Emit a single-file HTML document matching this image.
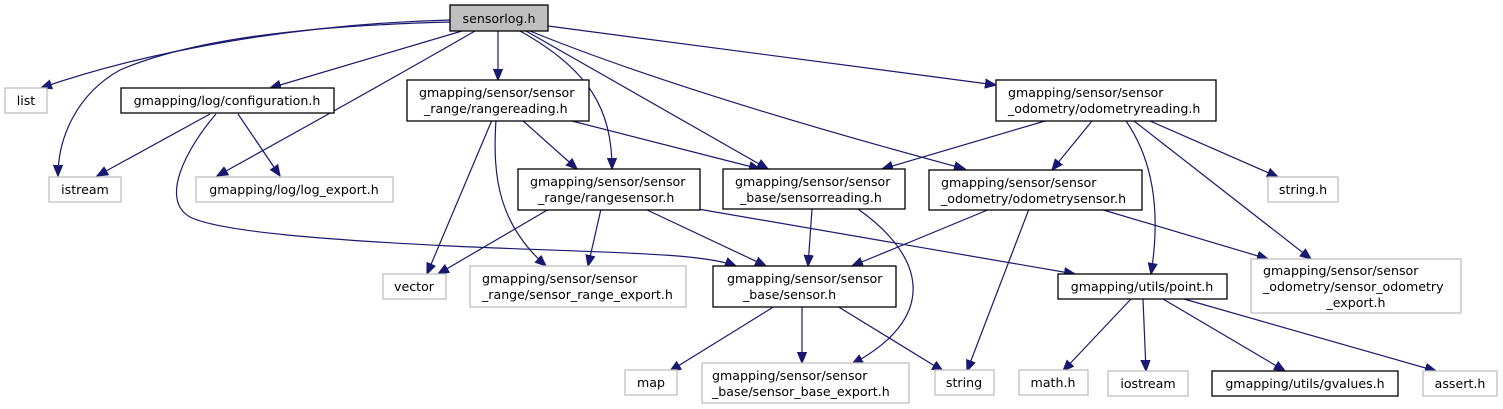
<!DOCTYPE html>
<html><head><meta charset="utf-8"><style>
html,body{margin:0;padding:0;background:#fff;}
svg{display:block;}
text{font-family:"DejaVu Sans","Liberation Sans",sans-serif;font-size:12.6px;fill:#000;}
.b{fill:#fff;stroke:#000;stroke-width:1.3;}
.g{fill:#fff;stroke:#bfbfbf;stroke-width:1.3;}
.e{fill:none;stroke:#191970;stroke-width:1.2;marker-end:url(#a);}
</style></head><body>
<svg width="1503" height="409" viewBox="0 0 1503 409" xmlns="http://www.w3.org/2000/svg">
<defs><marker id="a" markerUnits="userSpaceOnUse" markerWidth="13" markerHeight="11" refX="11" refY="5.5" orient="auto"><path d="M0,1 L11,5.5 L0,10 Z" fill="#191970" stroke="#191970" stroke-width="1.2"/></marker></defs>

<path class="e" d="M450,20 C300,24 150,50 41,88"/>
<path class="e" d="M450,22 C300,26 190,40 120,70 C75,95 58,140 58,176"/>
<path class="e" d="M462,31 L270,88"/>
<path class="e" d="M475,31 C390,80 300,130 217,176"/>
<path class="e" d="M498,31 L498,80"/>
<path class="e" d="M520,31 C590,70 612,110 612,169"/>
<path class="e" d="M526,31 L768,169"/>
<path class="e" d="M530,31 C650,80 820,130 965,169"/>
<path class="e" d="M548,26 L996,85"/>

<path class="e" d="M210,114 L97,176"/>
<path class="e" d="M238,114 L280,176"/>
<path class="e" d="M216,114 C185,150 160,200 190,217 C220,232 330,240 450,246 C600,253 700,252 736,266"/>

<path class="e" d="M492,120 L427,274"/>
<path class="e" d="M496,120 C492,180 500,225 546,266"/>
<path class="e" d="M522,120 L577,169"/>
<path class="e" d="M568,120 L760,169"/>

<path class="e" d="M1045,121 L882,169"/>
<path class="e" d="M1092,121 L1052,170"/>
<path class="e" d="M1126,121 C1160,170 1158,230 1151,274"/>
<path class="e" d="M1134,121 L1311,259"/>
<path class="e" d="M1150,121 L1278,177"/>

<path class="e" d="M549,209 L438,274"/>
<path class="e" d="M601,209 L588,266"/>
<path class="e" d="M645,209 L766,266"/>
<path class="e" d="M698,209 L1075,274"/>

<path class="e" d="M812,209 L808,266"/>
<path class="e" d="M858,209 C930,260 935,320 852,364"/>

<path class="e" d="M990,209 L852,266"/>
<path class="e" d="M1029,209 L967,371"/>
<path class="e" d="M1100,209 L1268,259"/>

<path class="e" d="M775,306 L670,371"/>
<path class="e" d="M802,306 L802,363"/>
<path class="e" d="M837,306 L943,371"/>

<path class="e" d="M1131,299 L1063,371"/>
<path class="e" d="M1143,299 L1146,371"/>
<path class="e" d="M1163,299 L1285,371"/>
<path class="e" d="M1184,299 L1436,371"/>

<rect x="450" y="5" width="98" height="26" fill="#bfbfbf" stroke="#000" stroke-width="1.3"/>
<text x="499" y="23" text-anchor="middle">sensorlog.h</text>

<rect class="g" x="5" y="88" width="42" height="25"/><text x="26" y="105" text-anchor="middle">list</text>
<rect class="b" x="121" y="88" width="213" height="25"/><text x="227" y="105" text-anchor="middle">gmapping/log/configuration.h</text>
<rect class="b" x="407" y="80" width="182" height="41"/><text x="419" y="97">gmapping/sensor/sensor</text><text x="424" y="113">_range/rangereading.h</text>
<rect class="b" x="996" y="80" width="220" height="41"/><text x="1008" y="97">gmapping/sensor/sensor</text><text x="1008" y="113">_odometry/odometryreading.h</text>

<rect class="g" x="49" y="177" width="72" height="25"/><text x="85" y="194" text-anchor="middle">istream</text>
<rect class="g" x="196" y="177" width="197" height="25"/><text x="294" y="194" text-anchor="middle">gmapping/log/log_export.h</text>
<rect class="b" x="518" y="169" width="182" height="41"/><text x="530" y="186">gmapping/sensor/sensor</text><text x="538" y="202">_range/rangesensor.h</text>
<rect class="b" x="723" y="169" width="182" height="40"/><text x="735" y="186">gmapping/sensor/sensor</text><text x="740" y="202">_base/sensorreading.h</text>
<rect class="b" x="929" y="170" width="213" height="40"/><text x="941" y="187">gmapping/sensor/sensor</text><text x="941" y="203">_odometry/odometrysensor.h</text>
<rect class="g" x="1268" y="177" width="70" height="25"/><text x="1303" y="194" text-anchor="middle">string.h</text>

<rect class="g" x="383" y="274" width="63" height="25"/><text x="414" y="291" text-anchor="middle">vector</text>
<rect class="g" x="470" y="266" width="216" height="41"/><text x="482" y="283">gmapping/sensor/sensor</text><text x="482" y="299">_range/sensor_range_export.h</text>
<rect class="b" x="713" y="266" width="183" height="41"/><text x="727" y="283">gmapping/sensor/sensor</text><text x="743" y="299">_base/sensor.h</text>
<rect class="b" x="1058" y="274" width="169" height="25"/><text x="1142" y="291" text-anchor="middle">gmapping/utils/point.h</text>
<rect class="g" x="1251" y="259" width="210" height="54"/><text x="1263" y="275">gmapping/sensor/sensor</text><text x="1263" y="291">_odometry/sensor_odometry</text><text x="1356" y="307" text-anchor="middle">_export.h</text>

<rect class="g" x="625" y="370" width="52" height="25"/><text x="651" y="387" text-anchor="middle">map</text>
<rect class="g" x="702" y="363" width="207" height="40"/><text x="712" y="380">gmapping/sensor/sensor</text><text x="712" y="396">_base/sensor_base_export.h</text>
<rect class="g" x="935" y="370" width="59" height="25"/><text x="964" y="387" text-anchor="middle">string</text>
<rect class="g" x="1019" y="370" width="69" height="25"/><text x="1053" y="387" text-anchor="middle">math.h</text>
<rect class="g" x="1108" y="371" width="80" height="25"/><text x="1148" y="388" text-anchor="middle">iostream</text>
<rect class="b" x="1212" y="371" width="186" height="25"/><text x="1305" y="388" text-anchor="middle">gmapping/utils/gvalues.h</text>
<rect class="g" x="1423" y="371" width="74" height="25"/><text x="1460" y="388" text-anchor="middle">assert.h</text>
</svg>
</body></html>
